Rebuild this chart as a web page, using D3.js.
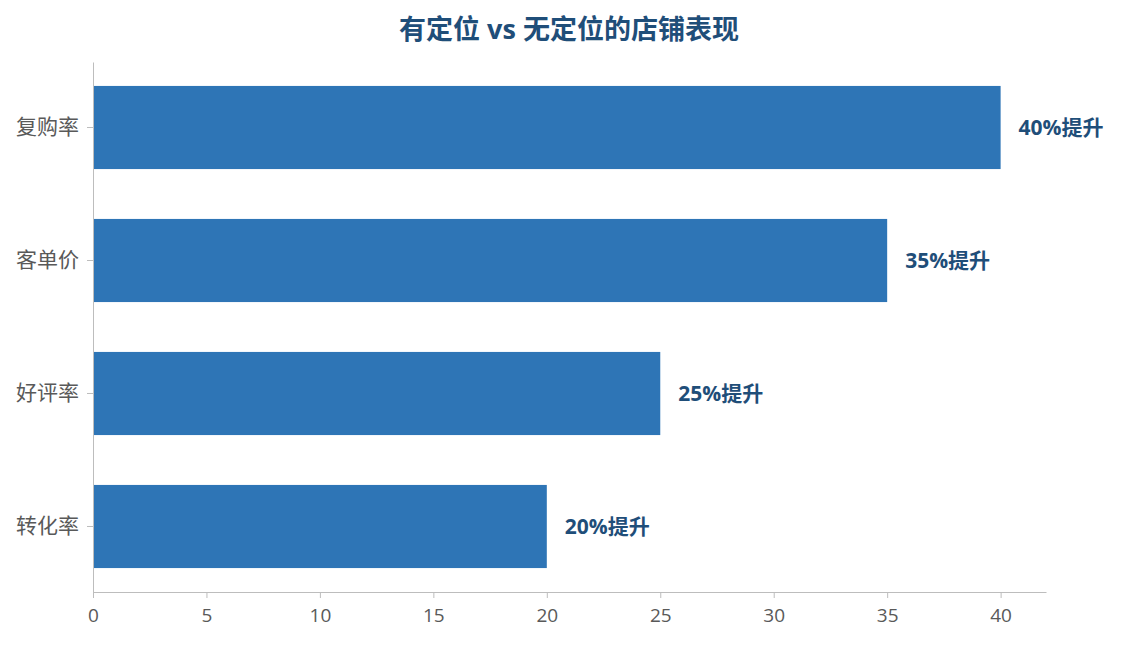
<!DOCTYPE html>
<html>
<head>
<meta charset="utf-8">
<script src="https://cdn.jsdelivr.net/npm/d3@7"></script>
<style>
  body { margin: 0; background: #fff; font-family: "Open Sans", "Noto Sans CJK SC", sans-serif; }
  .axis path, .axis line { stroke: #bdbdbd; }
  .axis text { fill: #595959; font-size: 19px; font-family: "Open Sans", "Noto Sans CJK SC", sans-serif; }
  .yaxis text { font-size: 21px; }
</style>
</head>
<body>
<svg id="chart" width="1122" height="645"></svg>
<script>
const categories = ["复购率", "客单价", "好评率", "转化率"];
const values = [40, 35, 25, 20];
const labels = ["40%提升", "35%提升", "25%提升", "20%提升"];
const xTicks = [0, 5, 10, 15, 20, 25, 30, 35, 40];

const margin = { top: 62, right: 76, bottom: 53, left: 93 },
    width = 1122 - margin.left - margin.right,
    height = 645 - margin.top - margin.bottom;

const svg = d3.select("#chart");

svg.append("text").attr("x", 569).attr("y", 39).attr("text-anchor", "middle")
    .attr("font-size", 27).attr("font-weight", "bold").attr("fill", "#1f4e79")
    .text("有定位 vs 无定位的店铺表现");

const g = svg.append("g").attr("transform", `translate(${margin.left},${margin.top})`);

const data = categories.map((c, i) => ({ cat: c, val: values[i], label: labels[i] }));

const x = d3.scaleLinear().domain([0, 42]).range([0, width]);
const y = d3.scaleBand().domain(categories).range([0, height]).paddingInner(0.375).paddingOuter(0.18);

g.selectAll("rect").data(data).join("rect")
    .attr("x", 0).attr("y", d => y(d.cat))
    .attr("width", d => x(d.val)).attr("height", y.bandwidth())
    .attr("fill", "#2e75b6");

g.selectAll(".lbl").data(data).join("text").attr("class", "lbl")
    .attr("x", d => x(d.val) + 18).attr("y", d => y(d.cat) + y.bandwidth() / 2)
    .attr("dy", "0.35em").attr("font-size", 21).attr("font-weight", "bold").attr("fill", "#1f4e79")
    .text(d => d.label);

g.append("g").attr("class", "axis").attr("transform", `translate(0,${height})`)
    .call(d3.axisBottom(x).tickValues(xTicks).tickSize(6).tickSizeOuter(0).tickPadding(11))
    .call(a => a.selectAll(".tick line").attr("stroke", "#595959"));

g.append("g").attr("class", "axis yaxis")
    .call(d3.axisLeft(y).tickSize(6).tickSizeOuter(0).tickPadding(8))
    .call(a => a.selectAll(".tick line").attr("stroke", "#595959"));
</script>
</body>
</html>
